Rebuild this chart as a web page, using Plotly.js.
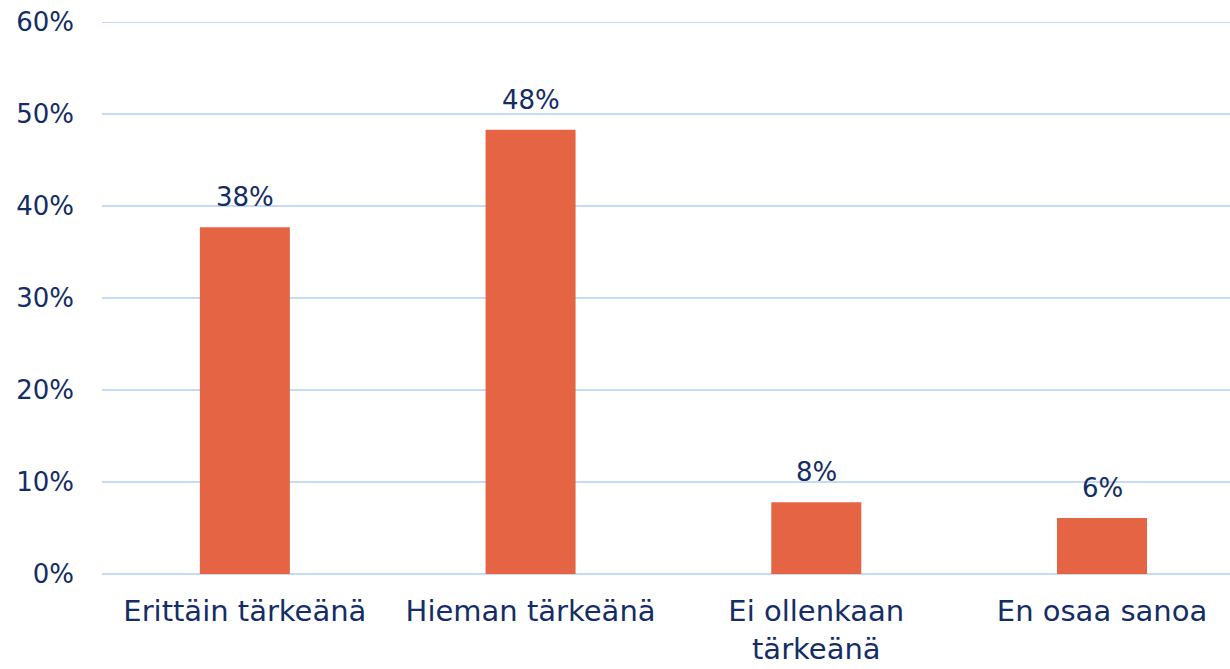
<!DOCTYPE html>
<html>
<head>
<meta charset="utf-8">
<script src="https://cdn.plot.ly/plotly-3.0.1.min.js"></script>
<style>html,body{margin:0;padding:0;background:#fff;}#chart{width:1230px;height:669px;}</style>
</head>
<body>
<div id="chart"></div>
<script>
const categories = ["Erittäin tärkeänä", "Hieman tärkeänä", "Ei ollenkaan<br>tärkeänä", "En osaa sanoa"];
const values = [37.7, 48.3, 7.8, 6.1];
const valueLabels = ["38%", "48%", "8%", "6%"];
const yTicks = [0, 10, 20, 30, 40, 50, 60];
const yTickLabels = ["0%", "10%", "20%", "30%", "40%", "50%", "60%"];

const navy = "#142D66";
const gridCol = "#C6DAF6";
const fontFam = "'DejaVu Sans', sans-serif";

const annotations = categories.map((c, i) => ({
  x: c, y: values[i], xref: "x", yref: "y",
  text: valueLabels[i], showarrow: false,
  yanchor: "bottom", yshift: 13,
  font: {family: fontFam, size: 26, color: navy}
}));

Plotly.newPlot("chart", [{
  type: "bar",
  x: categories,
  y: values,
  marker: {color: "#E56443"},
  hoverinfo: "none"
}], {
  width: 1230, height: 669,
  margin: {l: 102, r: 0, t: 22, b: 95},
  paper_bgcolor: "#fff", plot_bgcolor: "#fff",
  bargap: 0.685,
  showlegend: false,
  font: {family: fontFam, size: 26, color: navy},
  annotations: annotations,
  xaxis: {
    type: "category",
    range: [-0.5, 3.448],
    showgrid: false, zeroline: false, showline: false,
    ticks: "", ticklabelstandoff: 17,
    tickfont: {family: fontFam, size: 29, color: navy}
  },
  yaxis: {
    range: [0, 60],
    tickvals: yTicks,
    ticktext: yTickLabels,
    showgrid: true, gridcolor: gridCol, gridwidth: 2,
    zeroline: true, zerolinecolor: gridCol, zerolinewidth: 2,
    showline: false, ticks: "", ticklabelstandoff: 27,
    tickfont: {family: fontFam, size: 26, color: navy}
  },
  shapes: [{
    type: "line", xref: "paper", yref: "y", x0: 0, x1: 1, y0: 60, y1: 60,
    line: {color: gridCol, width: 2}, layer: "below"
  }]
}, {displayModeBar: false, staticPlot: true});
</script>
</body>
</html>
